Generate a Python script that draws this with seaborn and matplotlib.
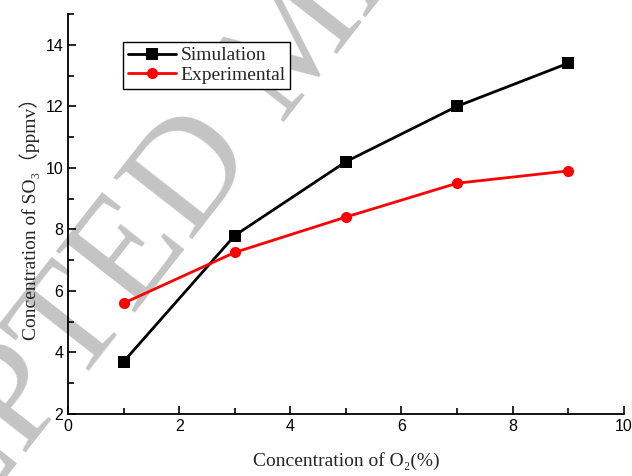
import pandas as pd
import seaborn as sns
import matplotlib.pyplot as plt
from matplotlib.ticker import MultipleLocator

# data
o2_percent = [1, 3, 5, 7, 9]
so3_simulation = [3.7, 7.8, 10.2, 12.0, 13.4]
so3_experimental = [5.6, 7.25, 8.4, 9.5, 9.9]
series_names = ["Simulation", "Experimental"]

sns.set_style("ticks")
serif = ["Liberation Serif", "Noto Sans CJK SC", "DejaVu Serif"]
plt.rcParams["font.family"] = ["Liberation Sans", "DejaVu Sans"]

df = pd.DataFrame({
    "O2": o2_percent * 2,
    "SO3": so3_simulation + so3_experimental,
    "series": [series_names[0]] * 5 + [series_names[1]] * 5,
})

fig = plt.figure(figsize=(6.32, 4.76), dpi=100)
ax = fig.add_axes([0.1076, 0.1303, 0.8794, 0.8403])
ax.set_facecolor("none")

# watermark behind everything
fig.text(0.477, 0.915, "ACCEPTED MANUSCRIPT", family=serif, fontsize=110,
         color="#c4c4c4", rotation=52, ha="center", va="center",
         rotation_mode="anchor", zorder=-5)

sns.lineplot(data=df, x="O2", y="SO3", hue="series", style="series",
             palette={"Simulation": "black", "Experimental": "red"},
             markers={"Simulation": "s", "Experimental": "o"},
             dashes=False, markersize=8, linewidth=2,
             markeredgewidth=0, ax=ax)

ax.set_xlim(0, 10)
ax.set_ylim(2, 15)
ax.xaxis.set_major_locator(MultipleLocator(2))
ax.xaxis.set_minor_locator(MultipleLocator(1))
ax.yaxis.set_major_locator(MultipleLocator(2))
ax.yaxis.set_minor_locator(MultipleLocator(1))
ax.set_yticks([2, 4, 6, 8, 10, 12, 14])
ax.tick_params(which="both", direction="in", width=1.2, colors="black",
               labelsize=11.5)
ax.tick_params(which="major", length=6)
ax.tick_params(which="minor", length=4)
sns.despine(ax=ax)
for side in ["left", "bottom"]:
    ax.spines[side].set_linewidth(1.3)
    ax.spines[side].set_color("black")

ax.set_xlabel("Concentration of O₂(%)", family=serif, fontsize=14, labelpad=13)
ax.set_ylabel("Concentration of SO₃（ppmv）", family=serif, fontsize=14,
              labelpad=4)

leg = ax.legend(loc="upper left", bbox_to_anchor=(0.099, 0.93),
                borderaxespad=0, frameon=True, fancybox=False,
                edgecolor="black", handlelength=2.5, handletextpad=0.2,
                labelspacing=0.1, borderpad=0.25,
                prop={"family": serif, "size": 14})
leg.get_frame().set_linewidth(1.0)
leg.get_frame().set_alpha(1)

fig.savefig("out.png", dpi=100)
